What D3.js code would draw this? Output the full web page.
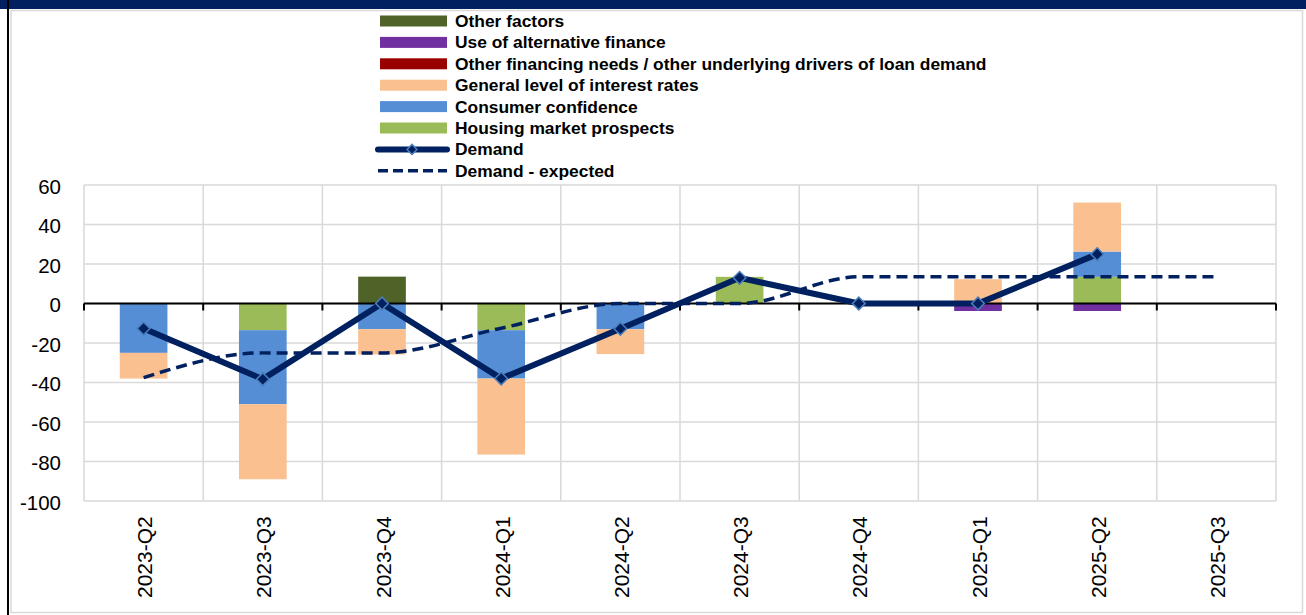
<!DOCTYPE html>
<html><head><meta charset="utf-8">
<script src="https://cdn.jsdelivr.net/npm/d3@7"></script>
<style>
html,body{margin:0;padding:0;background:#fff;}
svg{display:block;}
</style></head>
<body>
<svg id="chart" width="1306" height="615"></svg>
<script>
// ---- data ----
const categories = ["2023-Q2","2023-Q3","2023-Q4","2024-Q1","2024-Q2","2024-Q3","2024-Q4","2025-Q1","2025-Q2","2025-Q3"];
const housingMarket   = [0, -13.5, 0, -13.5, 0, 13.5, 0, 0, 13.5, 0];
const consumerConf    = [-25, -37.5, -13, -24.5, -13, 0, 0, 0, 12.8, 0];
const interestRates   = [-13, -38, -12.8, -38.5, -12.6, 0, 0, 12.3, 24.8, 0];
const otherFinancing  = [0, 0, 0, 0, 0, 0, 0, 0, 0, 0];
const altFinance      = [0, 0, 0, 0, 0, 0, 0, -3.8, -3.8, 0];
const otherFactors    = [0, 0, 13.6, 0, 0, 0, 0, 0, 0, 0];
const demand          = [-12.7, -38.3, 0, -38, -12.8, 13, 0, 0, 25];
const demandExpected  = [-37.5, -25, -25, -12.5, 0, 0, 13.5, 13.5, 13.5, 13.5];
const yTicks = [-100, -80, -60, -40, -20, 0, 20, 40, 60];

const seriesNames = ["Housing market prospects","Consumer confidence","General level of interest rates",
  "Other financing needs / other underlying drivers of loan demand","Use of alternative finance","Other factors"];
const seriesValues = [housingMarket, consumerConf, interestRates, otherFinancing, altFinance, otherFactors];
const seriesColors = ["#9BBB59","#558ED5","#FAC090","#990000","#7030A0","#4F6228"];
const navy = "#002060";

// ---- layout ----
const svg = d3.select("#chart");
const W = 1306, H = 615;
const plot = {left: 84, right: 1276, top: 185, bottom: 501};

// frame
svg.append("rect").attr("x",0).attr("y",0).attr("width",W).attr("height",9).attr("fill",navy);
svg.append("rect").attr("x",7).attr("y",0).attr("width",2).attr("height",H).attr("fill","#000");
svg.append("rect").attr("x",11).attr("y",10.5).attr("width",1291.5).attr("height",602)
   .attr("fill","none").attr("stroke","#d9d9d9").attr("stroke-width",1.5);

const x = d3.scaleBand().domain(categories).range([plot.left, plot.right]).paddingInner(0).paddingOuter(0);
const y = d3.scaleLinear().domain([-100, 60]).range([plot.bottom, plot.top]);
const barW = x.bandwidth() / 2.5;

// gridlines
const g = svg.append("g");
g.selectAll("line.hg").data(yTicks).join("line")
  .attr("x1", plot.left).attr("x2", plot.right)
  .attr("y1", d => y(d)).attr("y2", d => y(d))
  .attr("stroke", "#d9d9d9").attr("stroke-width", 1.5);
const bounds = categories.map(c => x(c)).concat([plot.right]);
g.selectAll("line.vg").data(bounds).join("line")
  .attr("x1", d => d).attr("x2", d => d)
  .attr("y1", plot.top).attr("y2", plot.bottom)
  .attr("stroke", "#d9d9d9").attr("stroke-width", 1.5);

// stacked bars
const rows = categories.map((c, i) => {
  const r = {cat: c};
  seriesNames.forEach((n, k) => r[n] = seriesValues[k][i]);
  return r;
});
const stack = d3.stack().keys(seriesNames).offset(d3.stackOffsetDiverging);
const stacked = stack(rows);
const bars = svg.append("g");
stacked.forEach((s, k) => {
  bars.selectAll(null).data(s).join("rect")
    .attr("x", d => x(d.data.cat) + (x.bandwidth() - barW) / 2)
    .attr("y", d => y(Math.max(d[0], d[1])))
    .attr("width", barW)
    .attr("height", d => Math.abs(y(d[0]) - y(d[1])))
    .attr("fill", seriesColors[k]);
});

// zero axis
svg.append("line").attr("x1", plot.left).attr("x2", plot.right)
  .attr("y1", y(0)).attr("y2", y(0)).attr("stroke", "#000").attr("stroke-width", 2);
svg.selectAll("line.tick").data(bounds).join("line")
  .attr("x1", d => d).attr("x2", d => d)
  .attr("y1", y(0)).attr("y2", y(0) + 7)
  .attr("stroke", "#000").attr("stroke-width", 2);

// y labels
svg.append("g").selectAll("text").data(yTicks).join("text")
  .attr("x", 61).attr("y", d => y(d) + 1)
  .attr("text-anchor", "end").attr("dominant-baseline", "central")
  .attr("font-family", "Liberation Sans, Arial, sans-serif").attr("font-size", 20.5)
  .attr("fill", "#000").text(d => d);

// x labels
svg.append("g").selectAll("text").data(categories).join("text")
  .attr("transform", d => `translate(${x(d) + x.bandwidth()/2 + 1},598) rotate(-90)`)
  .attr("text-anchor", "start").attr("dominant-baseline", "central")
  .attr("font-family", "Liberation Sans, Arial, sans-serif").attr("font-size", 21)
  .attr("fill", "#000").text(d => d);

// expected line (smoothed, dashed)
const lineExp = d3.line()
  .x((d, i) => x(categories[i]) + x.bandwidth()/2)
  .y(d => y(d))
  .curve(d3.curveMonotoneX);
svg.append("path").datum(demandExpected).attr("d", lineExp)
  .attr("fill", "none").attr("stroke", navy).attr("stroke-width", 3.5)
  .attr("stroke-dasharray", "11,6");

// demand line
const lineD = d3.line()
  .x((d, i) => x(categories[i]) + x.bandwidth()/2)
  .y(d => y(d));
svg.append("path").datum(demand).attr("d", lineD)
  .attr("fill", "none").attr("stroke", navy).attr("stroke-width", 6).attr("stroke-linejoin", "miter");
const diamond = d3.symbol(d3.symbolSquare, 80);
svg.append("g").selectAll("path").data(demand).join("path")
  .attr("d", diamond)
  .attr("transform", (d, i) => `translate(${x(categories[i]) + x.bandwidth()/2},${y(d)}) rotate(45)`)
  .attr("fill", navy).attr("stroke", "#4A7EBB").attr("stroke-width", 1.5);

// legend
const legendItems = [
  {name: "Other factors", type: "rect", color: seriesColors[5]},
  {name: "Use of alternative finance", type: "rect", color: seriesColors[4]},
  {name: "Other financing needs / other underlying drivers of loan demand", type: "rect", color: seriesColors[3]},
  {name: "General level of interest rates", type: "rect", color: seriesColors[2]},
  {name: "Consumer confidence", type: "rect", color: seriesColors[1]},
  {name: "Housing market prospects", type: "rect", color: seriesColors[0]},
  {name: "Demand", type: "line"},
  {name: "Demand - expected", type: "dash"}
];
const leg = svg.append("g");
legendItems.forEach((it, i) => {
  const cy = 21 + i * 21.4;
  if (it.type === "rect") {
    leg.append("rect").attr("x", 380).attr("y", cy - 5.5).attr("width", 67).attr("height", 11).attr("fill", it.color);
  } else if (it.type === "line") {
    leg.append("line").attr("x1", 378).attr("x2", 447).attr("y1", cy).attr("y2", cy)
      .attr("stroke", navy).attr("stroke-width", 6).attr("stroke-linecap", "round");
    leg.append("path").attr("d", d3.symbol(d3.symbolSquare, 50))
      .attr("transform", `translate(412,${cy}) rotate(45)`)
      .attr("fill", navy).attr("stroke", "#4A7EBB").attr("stroke-width", 1.5);
  } else {
    leg.append("line").attr("x1", 378).attr("x2", 447).attr("y1", cy).attr("y2", cy)
      .attr("stroke", navy).attr("stroke-width", 3.5).attr("stroke-dasharray", "10,5");
  }
  leg.append("text").attr("x", 455).attr("y", cy).attr("dominant-baseline", "central")
    .attr("font-family", "Liberation Sans, Arial, sans-serif")
    .attr("font-weight", "bold").attr("font-size", 17.4).attr("fill", "#000").text(it.name);
});
</script>
</body></html>
